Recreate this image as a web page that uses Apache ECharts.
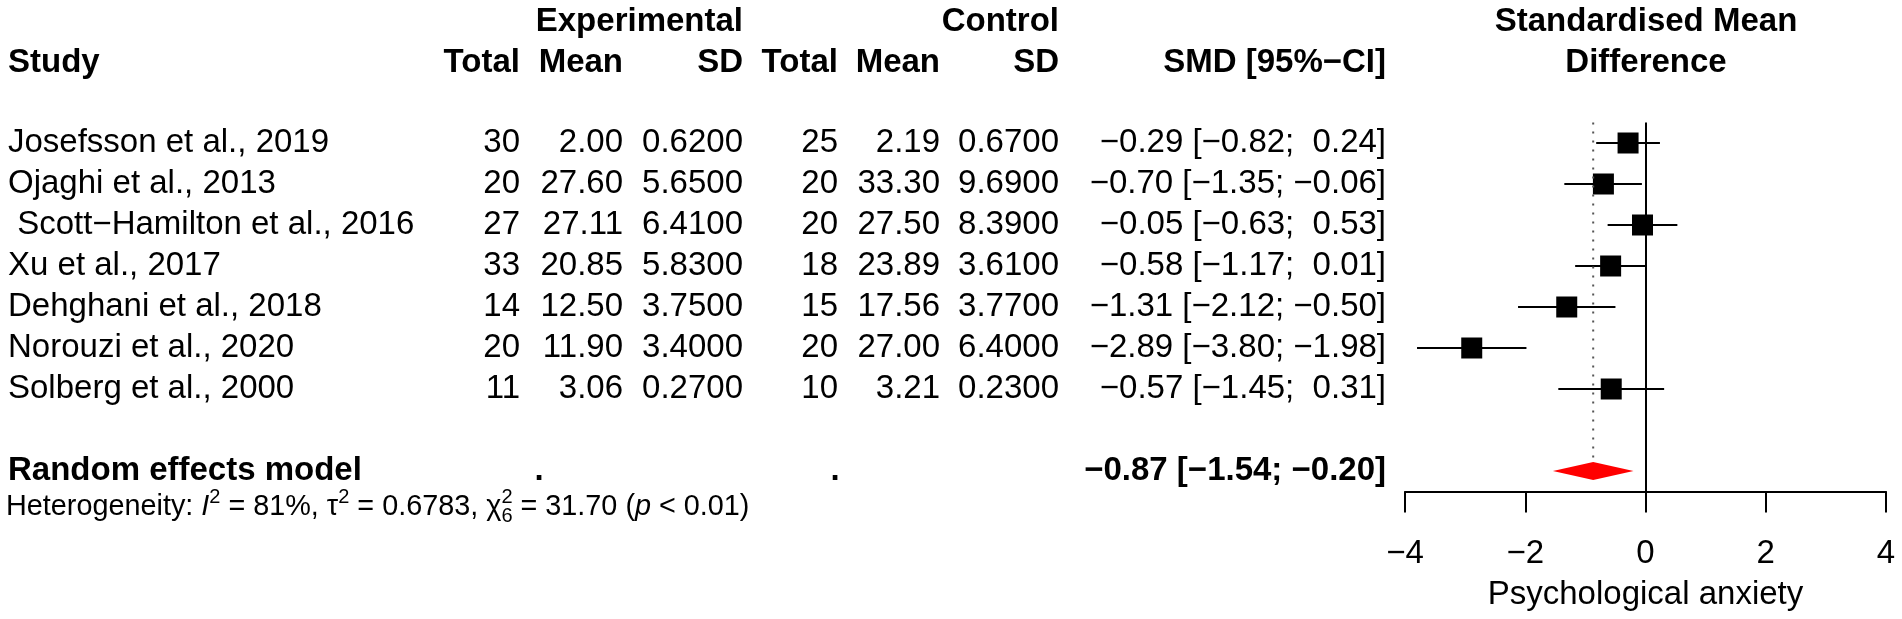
<!DOCTYPE html>
<html>
<head>
<meta charset="utf-8">
<title>Forest plot - Psychological anxiety</title>
<script src="https://cdn.jsdelivr.net/npm/echarts@6/dist/echarts.min.js"></script>
<style>
  html, body { margin: 0; padding: 0; background: #fff; }
  #chart { width: 1902px; height: 619px; }
</style>
</head>
<body>
<div id="chart"></div>
<script>
// study rows
const studies = ['Josefsson et al., 2019', 'Ojaghi et al., 2013', ' Scott\u2212Hamilton et al., 2016',
  'Xu et al., 2017', 'Dehghani et al., 2018', 'Norouzi et al., 2020', 'Solberg et al., 2000'];
const expTotal = [30, 20, 27, 33, 14, 20, 11];
const expMean = [2.00, 27.60, 27.11, 20.85, 12.50, 11.90, 3.06];
const expSD = [0.62, 5.65, 6.41, 5.83, 3.75, 3.40, 0.27];
const ctlTotal = [25, 20, 20, 18, 15, 20, 10];
const ctlMean = [2.19, 33.30, 27.50, 23.89, 17.56, 27.00, 3.21];
const ctlSD = [0.67, 9.69, 8.39, 3.61, 3.77, 6.40, 0.23];
const smd = [-0.29, -0.70, -0.05, -0.58, -1.31, -2.89, -0.57];
const ciLow = [-0.82, -1.35, -0.63, -1.17, -2.12, -3.80, -1.45];
const ciHigh = [0.24, -0.06, 0.53, 0.01, -0.50, -1.98, 0.31];

// random effects model: estimate, lower, upper
const pooled = [-0.87, -1.54, -0.20];
const pooledLabel = 'Random effects model';

const xTicks = [-4, -2, 0, 2, 4];
const xTitle = 'Psychological anxiety';

const FONT = '"Liberation Sans", Arial, Helvetica, sans-serif';
const FS = 33;
const SQ = 21;
const Y_MIN = -0.5, Y_MAX = 8.5;
const POOLED_ROW = studies.length + 1;

const cols = { study: 8, expTotal: 520, expMean: 623, expSD: 743, ctlTotal: 838, ctlMean: 940, ctlSD: 1059, ci: 1386, plot: 1646 };

const fmt = (v, d = 2) => (v < 0 ? '\u2212' : '') + Math.abs(v).toFixed(d);
const ciText = (est, lo, hi) => `${fmt(est)} [${fmt(lo)}; ${hi >= 0 ? ' ' : ''}${fmt(hi)}]`;

function text(str, x, y, opts = {}) {
  return {
    type: 'text', x: x, y: y, silent: true,
    style: {
      text: str, fill: '#000',
      fontSize: opts.size || FS, fontFamily: FONT,
      fontWeight: opts.bold ? 'bold' : 'normal',
      fontStyle: opts.italic ? 'italic' : 'normal',
      align: opts.align || 'right', verticalAlign: 'middle'
    }
  };
}

// heterogeneity line built from pieces (super/subscripts)
const measure = document.createElement('canvas').getContext('2d');
function hetPieces(x0, y) {
  const HS = 28.8, SS = 20;
  const parts = [
    { t: 'Heterogeneity: ' }, { t: 'I', italic: true }, { t: '2', sup: true },
    { t: ' = 81%, \u03c4' }, { t: '2', sup: true },
    { t: ' = 0.6783, \u03c7' }, { t: '2', sup: true, keep: true }, { t: '6', sub: true },
    { t: ' = 31.70 (' }, { t: 'p', italic: true }, { t: ' < 0.01)' }
  ];
  const out = [];
  let x = x0;
  parts.forEach(p => {
    const size = (p.sup || p.sub) ? SS : HS;
    measure.font = `${p.italic ? 'italic ' : ''}${size}px ${FONT}`;
    const w = measure.measureText(p.t).width;
    const dy = p.sup ? -10 : p.sub ? 9 : 0;
    out.push(text(p.t, x, y + dy, { align: 'left', size: size, italic: p.italic }));
    if (!p.keep) x += w;
  });
  return out;
}

const headers = [
  text('Experimental', cols.expSD, 22, { bold: true }),
  text('Control', cols.ctlSD, 22, { bold: true }),
  text('Standardised Mean', cols.plot, 22, { bold: true, align: 'center' }),
  text('Study', cols.study, 63, { bold: true, align: 'left' }),
  text('Total', cols.expTotal, 63, { bold: true }),
  text('Mean', cols.expMean, 63, { bold: true }),
  text('SD', cols.expSD, 63, { bold: true }),
  text('Total', cols.ctlTotal, 63, { bold: true }),
  text('Mean', cols.ctlMean, 63, { bold: true }),
  text('SD', cols.ctlSD, 63, { bold: true }),
  text('SMD [95%\u2212CI]', cols.ci, 63, { bold: true }),
  text('Difference', cols.plot, 63, { bold: true, align: 'center' })
].concat(hetPieces(6, 507));

const chart = echarts.init(document.getElementById('chart'), null, { renderer: 'canvas' });

const option = {
  animation: false,
  backgroundColor: '#fff',
  grid: { left: 1405, right: 16, top: 122.5, height: 369 },
  xAxis: {
    type: 'value', min: xTicks[0], max: xTicks[xTicks.length - 1], interval: 2,
    position: 'bottom',
    name: xTitle, nameLocation: 'middle', nameGap: 87,
    nameTextStyle: { fontSize: FS, fontFamily: FONT, color: '#000' },
    axisLine: { show: true, onZero: false, lineStyle: { color: '#000', width: 2 } },
    axisTick: { show: true, length: 21, lineStyle: { color: '#000', width: 2 } },
    axisLabel: { fontSize: FS, fontFamily: FONT, color: '#000', margin: 46, formatter: v => fmt(v, 0) },
    splitLine: { show: false }
  },
  yAxis: { type: 'value', min: Y_MIN, max: Y_MAX, inverse: true, show: false },
  graphic: headers,
  series: [
    {
      type: 'custom', clip: false,
      data: studies.map((s, i) => [smd[i], ciLow[i], ciHigh[i], i]),
      encode: { x: [0, 1, 2], y: 3 },
      markLine: {
        silent: true, symbol: 'none', label: { show: false },
        lineStyle: { color: '#000', width: 2, type: 'solid' },
        data: [{ xAxis: 0 }]
      },
      renderItem(params, api) {
        const k = params.dataIndex;
        const i = api.value(3);
        const c = api.coord([api.value(0), i]);
        const lo = api.coord([api.value(1), i]);
        const hi = api.coord([api.value(2), i]);
        const y = c[1];
        return {
          type: 'group',
          children: [
            { type: 'line', shape: { x1: lo[0], y1: y, x2: hi[0], y2: y }, style: { stroke: '#000', lineWidth: 2 } },
            { type: 'rect', shape: { x: c[0] - SQ / 2, y: y - SQ / 2, width: SQ, height: SQ }, style: { fill: '#000' } },
            text(studies[k], cols.study, y, { align: 'left' }),
            text(String(expTotal[k]), cols.expTotal, y),
            text(expMean[k].toFixed(2), cols.expMean, y),
            text(expSD[k].toFixed(4), cols.expSD, y),
            text(String(ctlTotal[k]), cols.ctlTotal, y),
            text(ctlMean[k].toFixed(2), cols.ctlMean, y),
            text(ctlSD[k].toFixed(4), cols.ctlSD, y),
            text(ciText(smd[k], ciLow[k], ciHigh[k]), cols.ci, y)
          ]
        };
      }
    },
    {
      type: 'custom', clip: false,
      data: [[pooled[0], pooled[1], pooled[2], POOLED_ROW]],
      encode: { x: [0, 1, 2], y: 3 },
      renderItem(params, api) {
        const row = api.value(3);
        const c = api.coord([api.value(0), row]);
        const lo = api.coord([api.value(1), row]);
        const hi = api.coord([api.value(2), row]);
        const top = api.coord([api.value(0), Y_MIN]);
        const h = 9;
        return {
          type: 'group',
          children: [
            { type: 'line', shape: { x1: c[0], y1: top[1], x2: c[0], y2: c[1] - h },
              style: { stroke: '#555', lineWidth: 2, lineDash: [2, 7] } },
            { type: 'polygon', shape: { points: [[lo[0], c[1]], [c[0], c[1] - h], [hi[0], c[1]], [c[0], c[1] + h]] },
              style: { fill: '#ff0000' } },
            text(pooledLabel, cols.study, c[1], { align: 'left', bold: true }),
            text('.', 539, c[1], { align: 'center', bold: true }),
            text('.', 835, c[1], { align: 'center', bold: true }),
            text(ciText(pooled[0], pooled[1], pooled[2]), cols.ci, c[1], { bold: true })
          ]
        };
      }
    }
  ]
};

chart.setOption(option);
</script>
</body>
</html>
